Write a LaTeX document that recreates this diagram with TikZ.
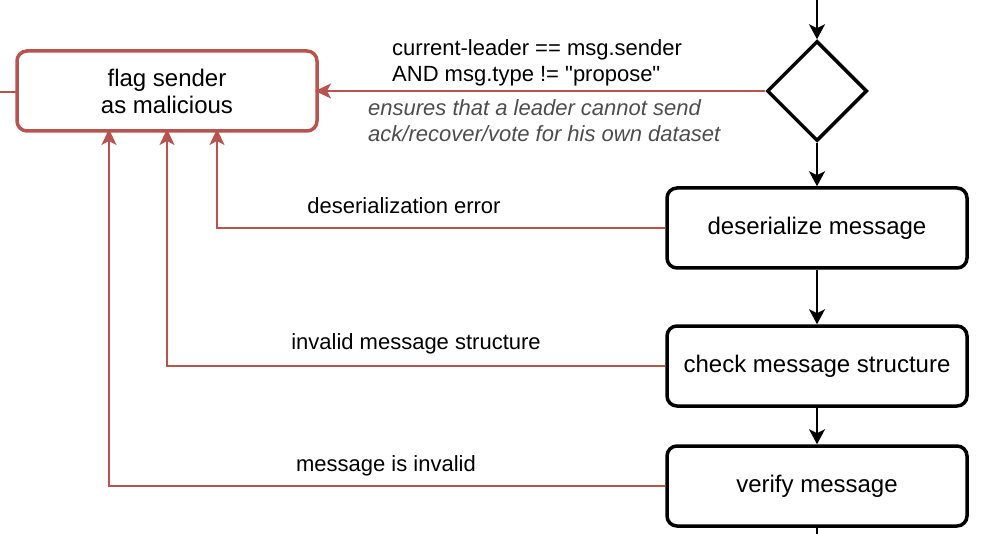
\documentclass[tikz,border=0pt]{standalone}
\usepackage{fontspec}
\setmainfont{Liberation Sans}
\usepackage{tikz}
\usetikzlibrary{
  arrows.meta,
  positioning,
  shapes.geometric
}
\definecolor{alarm}{HTML}{B85450}
\definecolor{note}{HTML}{4D4D4D}

\begin{document}
\begin{tikzpicture}[
      x=1pt, y=-1pt,
      passo/.style={draw=black, line width=3.5pt, rounded corners=10pt, minimum width=300pt, minimum height=80pt, align=center, font=\fontsize{24}{28}\selectfont},
      alerta/.style={draw=alarm, line width=3.5pt, rounded corners=10pt, minimum width=300pt, minimum height=80pt, outer sep=0pt, align=center, font=\fontsize{24}{27}\selectfont},
      decisao/.style={draw=black, diamond, line width=3.5pt, minimum width=100pt, minimum height=100pt, inner sep=0pt},
      rotulo/.style={align=left, inner sep=0pt, font=\fontsize{22}{26}\selectfont},
      seta/.style={-{Stealth[length=15pt, width=16pt, inset=4pt]}, line width=2pt, black},
      setavermelha/.style={-{Stealth[length=16pt, width=15pt, inset=4pt]}, line width=1.5pt, alarm, shorten >=-2pt}
  ]
      \useasboundingbox (0,0) rectangle (984,534);

      % Caixas e losango
      \node[alerta] (flag) at (167, 91) {flag sender\\as malicious};
      \node[decisao] (dec) at (817, 91) {};
      \node[passo] (deser) at (817, 228) {deserialize message};
      \node[passo] (struct) at (817, 366) {check message structure};
      \node[passo] (verif) at (817, 486) {verify message};

      % Pontas livres nas bordas
      \coordinate (topo) at (817, 0);
      \coordinate (fundo) at (817, 534);
      \coordinate (esq) at (0, 92);

      % Fluxo principal
      \draw[seta] (topo) -- (dec.north);
      \draw[seta] (dec.south) -- (deser.north);
      \draw[seta] (deser.south) -- (struct.north);
      \draw[seta] (struct.south) -- (verif.north);
      \draw[line width=2pt] (verif.south) -- (fundo);

      % Ramos de erro
      \draw[line width=1.5pt, alarm] (esq) -- (flag.west |- esq);
      \draw[setavermelha] (dec.west) -- (flag.east);
      \draw[setavermelha] (deser.west) -| ([xshift=50pt]flag.south);
      \draw[setavermelha] (struct.west) -| (flag.south);
      \draw[setavermelha] (verif.west) -| ([xshift=-58pt]flag.south);

      % Rotulos
      \node[rotulo, anchor=west] (cond) at (392, 63) {current-leader == msg.sender\\AND msg.type != \textquotedbl propose\textquotedbl};
      \node[rotulo, anchor=west, text=note, font=\fontsize{22}{26}\selectfont\itshape] (obs) at (368, 121) {ensures that a leader cannot send\\ack/recover/vote for his own dataset};
      \node[rotulo] (lerro) at (404, 206) {deserialization error};
      \node[rotulo] (lestr) at (416, 344) {invalid message structure};
      \node[rotulo] (linv) at (386, 466) {message is invalid};

  \end{tikzpicture}
\end{document}
